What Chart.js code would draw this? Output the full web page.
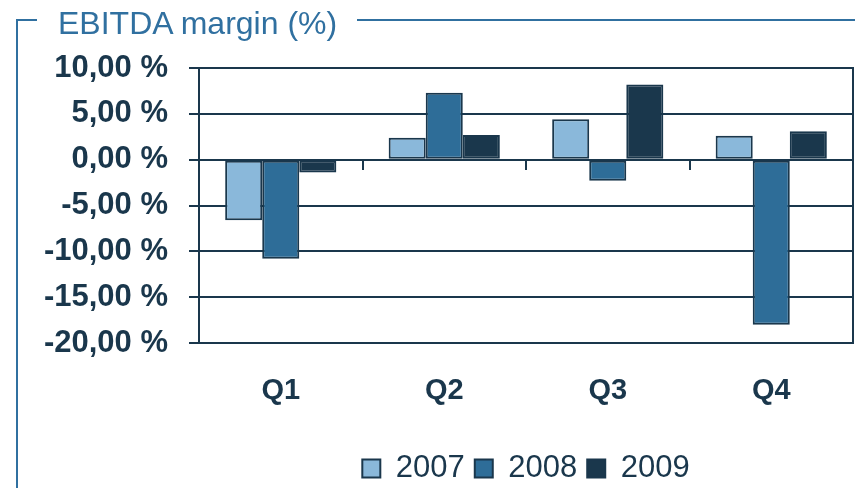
<!DOCTYPE html>
<html>
<head>
<meta charset="utf-8">
<script src="https://cdn.jsdelivr.net/npm/chart.js@4.4.1/dist/chart.umd.min.js"></script>
<style>
    body { margin: 0; background: #fff; }
    .wrap { position: relative; width: 855px; height: 488px; overflow: hidden; }
    .title {
        position: absolute; left: 58px; top: 5px;
        font: 32px "Liberation Sans", Arial, sans-serif;
        color: #3070a0; white-space: nowrap;
    }
    .frame { position: absolute; background: #3070a0; }
</style>
</head>
<body>
<div class="wrap">
    <canvas id="chart" width="855" height="488"></canvas>
    <div class="frame" style="left:16px;top:19px;width:2px;height:470px"></div>
    <div class="frame" style="left:16px;top:19px;width:21px;height:2px"></div>
    <div class="frame" style="left:357px;top:19px;width:498px;height:2px"></div>
    <div class="title">EBITDA margin (%)</div>
</div>
<script>
const quarters = ['Q1', 'Q2', 'Q3', 'Q4'];
const years = ['2007', '2008', '2009'];
const margin2007 = [-6.6, 2.4, 4.4, 2.6];
const margin2008 = [-10.8, 7.3, -2.3, -18.0];
const margin2009 = [-1.4, 2.7, 8.2, 3.1];
const yTicks = [10, 5, 0, -5, -10, -15, -20];

const dark = '#1a374c';
const fills = ['#8ab8da', '#2e6d98', '#1a374c'];
const series = [margin2007, margin2008, margin2009];

const ctx = document.getElementById('chart').getContext('2d');

new Chart(ctx, {
    type: 'bar',
    data: {
        labels: quarters,
        datasets: years.map((y, i) => ({
            label: y,
            data: series[i],
            backgroundColor: fills[i],
            borderColor: dark,
            borderWidth: 2,
            borderSkipped: false,
            barPercentage: 1,
            categoryPercentage: 0.68,
        })),
    },
    options: {
        responsive: false,
        animation: false,
        layout: { padding: { left: 0, right: 2, top: 68, bottom: -6 } },
        plugins: {
            tooltip: { enabled: false },
            legend: {
                position: 'bottom',
                fullSize: false,
                labels: {
                    color: dark,
                    boxWidth: 18,
                    boxHeight: 18,
                    padding: 10,
                    font: { family: '"Liberation Sans", Arial, sans-serif', size: 31 },
                },
            },
        },
        scales: {
            x: {
                grid: { display: false, drawTicks: false },
                border: { display: false },
                ticks: {
                    color: dark,
                    padding: 31,
                    font: { family: '"Liberation Sans", Arial, sans-serif', size: 29, weight: 'bold' },
                },
                afterFit: (scale) => { scale.height = 100; },
            },
            x2: {
                type: 'category',
                labels: quarters,
                position: { y: 0 },
                offset: true,
                grid: { offset: true, drawOnChartArea: false, tickLength: 10, color: dark, lineWidth: 2 },
                border: { display: false },
                ticks: { display: false },
            },
            y: {
                min: -20,
                max: 10,
                afterBuildTicks: (scale) => { scale.ticks = yTicks.map((v) => ({ value: v })); },
                grid: { color: dark, lineWidth: 2, tickLength: 10 },
                border: { color: dark, width: 2 },
                ticks: {
                    color: dark,
                    padding: 21,
                    font: { family: '"Liberation Sans", Arial, sans-serif', size: 31, weight: 'bold' },
                    callback: (v) => v.toFixed(2).replace('.', ',') + ' %',
                },
                afterFit: (scale) => { scale.width = 199; },
            },
            yR: {
                position: 'right',
                grid: { drawOnChartArea: false, drawTicks: false },
                border: { color: dark, width: 2 },
                ticks: { display: false },
                afterFit: (scale) => { scale.width = 0; },
            },
        },
    },
});
</script>
</body>
</html>
